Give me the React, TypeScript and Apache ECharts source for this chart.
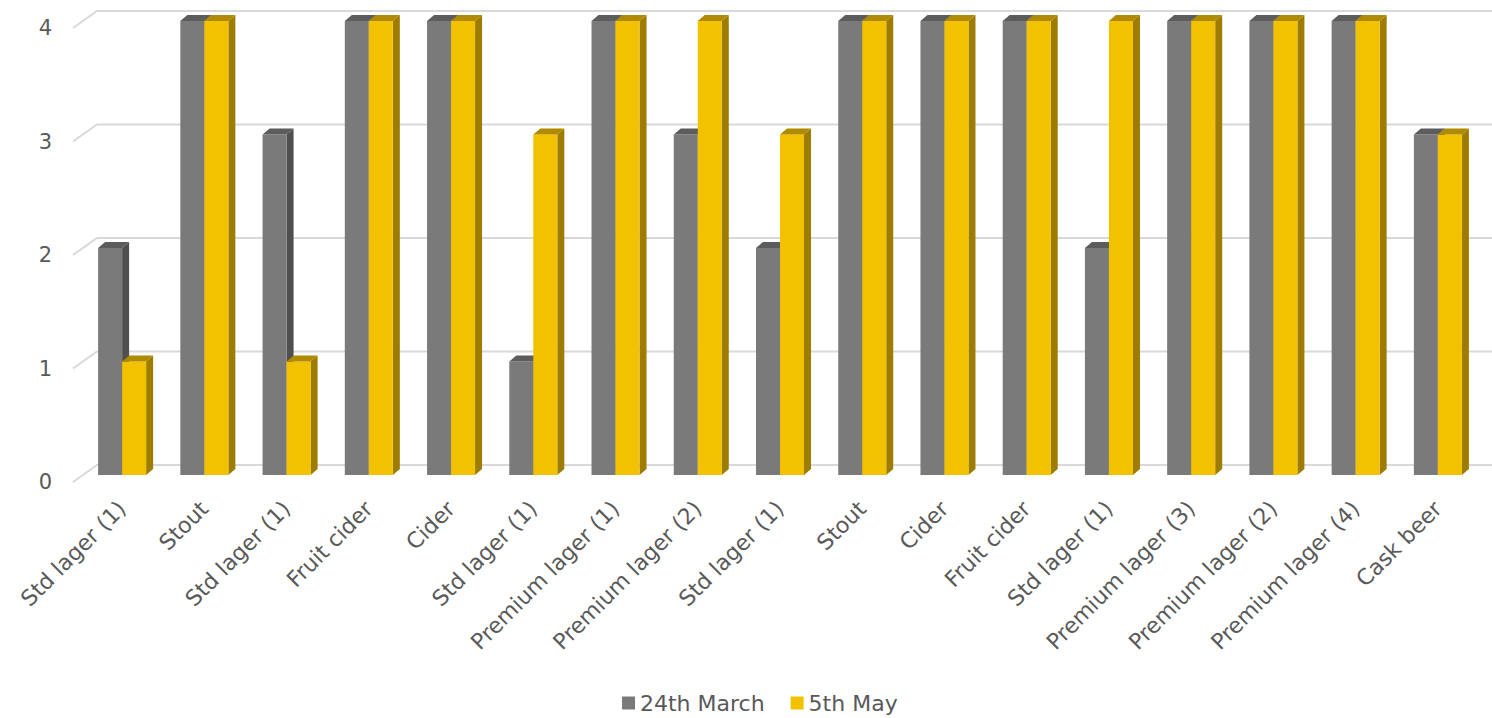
import React, { useEffect, useRef } from "react";
import * as echarts from "echarts";

const categories = [
  "Std lager (1)",
  "Stout",
  "Std lager (1)",
  "Fruit cider",
  "Cider",
  "Std lager (1)",
  "Premium lager (1)",
  "Premium lager (2)",
  "Std lager (1)",
  "Stout",
  "Cider",
  "Fruit cider",
  "Std lager (1)",
  "Premium lager (3)",
  "Premium lager (2)",
  "Premium lager (4)",
  "Cask beer",
];
const march24 = [2, 4, 3, 4, 4, 1, 4, 3, 2, 4, 4, 4, 2, 4, 4, 4, 3];
const may5 = [1, 4, 1, 4, 4, 3, 4, 4, 3, 4, 4, 4, 4, 4, 4, 4, 3];
const yTicks = [0, 1, 2, 3, 4];
const seriesNames = ["24th March", "5th May"];

const FONT = "DejaVu Sans";
const TEXT = "#595959";

const palettes = [
  { front: "#7a7a7a", side: "#4f4f4f", top: "#5c5c5c" },
  { front: "#f2c200", side: "#9e7c00", top: "#b08a00" },
];

function makeBarRender(idx: number) {
  const pal = palettes[idx];
  return (params: any, api: any) => {
    const x = api.value(0);
    const v = api.value(1);
    const base = api.coord([x, 0]);
    const top = api.coord([x, v]);
    const band = api.size([1, 0])[0];
    const w = band * 0.292;
    const dx = 7;
    const dy = 6;
    const x0 = idx === 0 ? base[0] - w : base[0];
    const x1 = x0 + w;
    const yT = top[1];
    const yB = base[1];
    return {
      type: "group",
      children: [
        {
          type: "polygon",
          shape: { points: [[x1, yB], [x1 + dx, yB - dy], [x1 + dx, yT - dy], [x1, yT]] },
          style: { fill: pal.side },
        },
        {
          type: "rect",
          shape: { x: x0, y: yT, width: w, height: yB - yT },
          style: { fill: pal.front },
        },
        {
          type: "polygon",
          shape: { points: [[x0, yT], [x0 + dx, yT - dy], [x1 + dx, yT - dy], [x1, yT]] },
          style: { fill: pal.top },
        },
      ],
    };
  };
}

function gridRender(params: any, api: any) {
  const p = api.coord([0, api.value(1)]);
  const W = api.getWidth();
  return {
    type: "polyline",
    shape: { points: [[p[0], p[1]], [p[0] + 24, p[1] - 17], [W, p[1] - 17]] },
    style: { stroke: "#d9d9d9", lineWidth: 2, fill: "none" },
  };
}

export default function App() {
  const ref = useRef<HTMLDivElement>(null);
  useEffect(() => {
    if (!ref.current) return;
    const chart = echarts.init(ref.current, undefined, { renderer: "svg" });
    chart.setOption({
      animation: false,
      color: [palettes[0].front, palettes[1].front],
      textStyle: { fontFamily: FONT },
      grid: [
        { left: 81, right: 13, top: 21, bottom: 243 },
        { left: 73, right: 13, top: 28, bottom: 236 },
      ],
      xAxis: [
        {
          type: "category",
          gridIndex: 0,
          data: categories,
          axisLine: { show: false },
          axisTick: { show: false },
          axisLabel: {
            interval: 0,
            rotate: 45,
            margin: 30,
            fontSize: 22,
            color: TEXT,
            fontFamily: FONT,
          },
        },
        { type: "value", gridIndex: 1, min: 0, max: 1, show: false },
      ],
      yAxis: [
        {
          type: "value",
          gridIndex: 0,
          min: 0,
          max: 4,
          interval: 1,
          axisLabel: { show: false },
          axisLine: { show: false },
          axisTick: { show: false },
          splitLine: { show: false },
        },
        {
          type: "value",
          gridIndex: 1,
          min: 0,
          max: 4,
          interval: 1,
          axisLabel: { margin: 21, fontSize: 21, color: TEXT, fontFamily: FONT },
          axisLine: { show: false },
          axisTick: { show: false },
          splitLine: { show: false },
        },
      ],
      legend: {
        data: seriesNames,
        top: 687,
        left: 617,
        icon: "rect",
        itemWidth: 13,
        itemHeight: 13,
        itemGap: 26,
        textStyle: { fontSize: 22, color: TEXT, fontFamily: FONT },
      },
      series: [
        {
          type: "custom",
          xAxisIndex: 1,
          yAxisIndex: 1,
          z: 1,
          silent: true,
          renderItem: gridRender,
          data: yTicks.map((t) => [0, t]),
          encode: { x: 0, y: 1 },
        },
        {
          type: "custom",
          name: seriesNames[0],
          xAxisIndex: 0,
          yAxisIndex: 0,
          z: 2,
          itemStyle: { color: palettes[0].front },
          renderItem: makeBarRender(0),
          data: march24.map((v, i) => [i, v]),
          encode: { x: 0, y: 1 },
        },
        {
          type: "custom",
          name: seriesNames[1],
          xAxisIndex: 0,
          yAxisIndex: 0,
          z: 3,
          itemStyle: { color: palettes[1].front },
          renderItem: makeBarRender(1),
          data: may5.map((v, i) => [i, v]),
          encode: { x: 0, y: 1 },
        },
      ],
    });
    return () => chart.dispose();
  }, []);
  return (
    <div
      ref={ref}
      style={{ position: "absolute", left: 0, top: 0, width: 1492, height: 718 }}
    />
  );
}
